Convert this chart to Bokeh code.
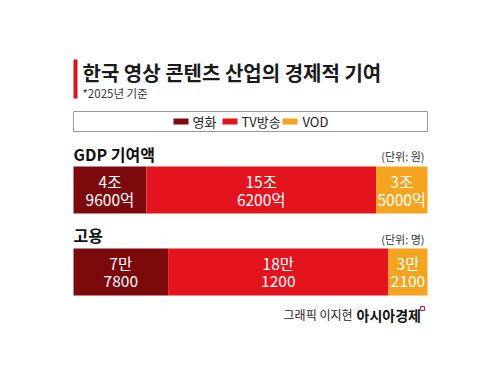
from bokeh.plotting import figure
from bokeh.models import ColumnDataSource, Range1d
from bokeh.core.properties import value
from bokeh.embed import file_html
from bokeh.resources import INLINE

# ---- data ----
categories = ["영화", "TV방송", "VOD"]
gdp_values = [4.96, 15.62, 3.50]          # 조원
gdp_top = ["4조", "15조", "3조"]
gdp_bottom = ["9600억", "6200억", "5000억"]
job_values = [77800, 181200, 32100]       # 명
job_top = ["7만", "18만", "3만"]
job_bottom = ["7800", "1200", "2100"]
colors = ["#7c0a0d", "#e3141d", "#f4a41e"]

FONT = "Noto Sans CJK KR"
W, H = 484, 366
BAR_L, BAR_R = 73, 427
SPAN = BAR_R - BAR_L


def fx(px):
    return (px - BAR_L) / SPAN


p = figure(width=W, height=H, output_backend="svg", toolbar_location=None,
           x_range=Range1d(fx(0), fx(W)), y_range=Range1d(H, 0),
           min_border=0, outline_line_color=None, background_fill_color="white",
           border_fill_color="white")
p.axis.visible = False
p.grid.visible = False


def bar_source(vals, tops, bottoms):
    total = sum(vals)
    left, right = [], []
    acc = 0
    for v in vals:
        left.append(acc / total)
        acc += v
        right.append(acc / total)
    mid = [(l + r) / 2 for l, r in zip(left, right)]
    return ColumnDataSource(dict(left=left, right=right, mid=mid, color=colors,
                                 top_lbl=tops, bot_lbl=bottoms, cat=categories))


def draw_row(vals, tops, bottoms, y0, y1):
    src = bar_source(vals, tops, bottoms)
    p.quad(left="left", right="right", top=y0, bottom=y1, fill_color="color",
           line_color=None, source=src)
    yc = (y0 + y1) / 2
    for col, y in (("top_lbl", yc - 9), ("bot_lbl", yc + 9)):
        p.text(x="mid", y=y, text=col, source=src, text_color="white",
               text_font=value(FONT), text_font_size="15.5px", text_align="center",
               text_baseline="middle")


# title
p.quad(left=fx(73), right=fx(77), top=59, bottom=98, fill_color="#d7141c", line_color=None)
p.text(x=[fx(82)], y=[72], text=["한국 영상 콘텐츠 산업의 경제적 기여"], text_font=value(FONT),
       text_font_style="bold", text_font_size="20px", text_color="#1a1a1a",
       text_baseline="middle")
p.text(x=[fx(82)], y=[92], text=["*2025년 기준"], text_font=value(FONT),
       text_font_size="11.5px", text_color="#333333", text_baseline="middle")

# legend box
p.quad(left=fx(73), right=fx(427), top=111, bottom=131, fill_color="white",
       line_color="#9a9a9a", line_width=1)
leg_sq = [173, 222, 282]
leg_tx = [192, 241, 302]
p.quad(left=[fx(x) for x in leg_sq], right=[fx(x + 15) for x in leg_sq], top=118, bottom=124,
       fill_color=colors, line_color=None)
p.text(x=[fx(x) for x in leg_tx], y=[121] * 3, text=categories, text_font=value(FONT),
       text_font_size="13px", text_color="#222222", text_baseline="middle")

# sections
p.text(x=[fx(73)], y=[153], text=["GDP 기여액"], text_font=value(FONT), text_font_style="bold",
       text_font_size="16px", text_color="#111111", text_baseline="middle")
p.text(x=[fx(424)], y=[155], text=["(단위: 원)"], text_font=value(FONT),
       text_font_size="11px", text_color="#333333", text_baseline="middle", text_align="right")
draw_row(gdp_values, gdp_top, gdp_bottom, 166, 213)

p.text(x=[fx(73)], y=[234], text=["고용"], text_font=value(FONT), text_font_style="bold",
       text_font_size="16px", text_color="#111111", text_baseline="middle")
p.text(x=[fx(424)], y=[238], text=["(단위: 명)"], text_font=value(FONT),
       text_font_size="11px", text_color="#333333", text_baseline="middle", text_align="right")
draw_row(job_values, job_top, job_bottom, 248, 295)

# footer
p.text(x=[fx(352)], y=[314], text=["그래픽 이지현"], text_font=value(FONT),
       text_font_size="12px", text_color="#222222", text_baseline="middle", text_align="right")
p.text(x=[fx(356)], y=[314], text=["아시아경제"], text_font=value(FONT), text_font_style="bold",
       text_font_size="14px", text_color="#111111", text_baseline="middle")
p.quad(left=fx(420), right=fx(424), top=306, bottom=310, fill_color=None,
       line_color="#d7141c", line_width=1)

open("out.html", "w").write(file_html(p, INLINE))
